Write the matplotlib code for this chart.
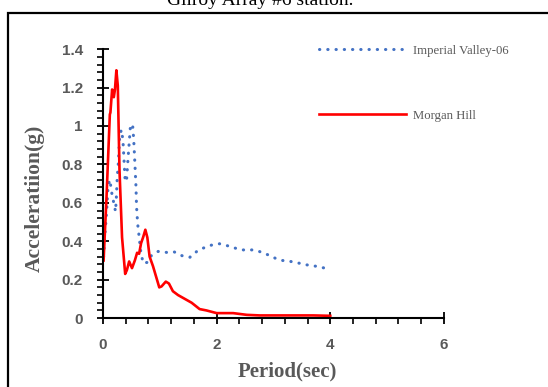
import numpy as np
import matplotlib
matplotlib.use("Agg")
import matplotlib.pyplot as plt
from matplotlib.patches import Rectangle
from matplotlib.ticker import MultipleLocator

# spectral acceleration vs period, two records
t_iv = [0.01, 0.03, 0.06, 0.09, 0.12, 0.14, 0.165, 0.19, 0.22, 0.235, 0.25, 0.27, 0.29,
        0.32, 0.35, 0.37, 0.39, 0.415, 0.44, 0.46, 0.48, 0.52, 0.54, 0.56, 0.58, 0.59,
        0.61, 0.635, 0.66, 0.705, 0.78, 0.85, 0.97, 1.12, 1.25, 1.39, 1.53, 1.65, 1.76,
        1.91, 2.05, 2.2, 2.33, 2.47, 2.62, 2.75, 2.9, 3.03, 3.16, 3.3, 3.45, 3.59, 3.75, 3.91]
a_iv = [0.32, 0.42, 0.54, 0.69, 0.72, 0.68, 0.63, 0.60, 0.555, 0.63, 0.73, 0.81, 0.93,
        0.98, 0.93, 0.82, 0.71, 0.72, 0.83, 0.91, 0.99, 1.01, 0.93, 0.81, 0.685, 0.58,
        0.49, 0.425, 0.355, 0.286, 0.29, 0.325, 0.347, 0.342, 0.345, 0.325, 0.317, 0.347, 0.364,
        0.38, 0.387, 0.376, 0.364, 0.355, 0.355, 0.347, 0.33, 0.312, 0.30, 0.295, 0.286, 0.277, 0.27, 0.26]

t_mh = [0.01, 0.06, 0.12, 0.13, 0.16, 0.19, 0.21, 0.235, 0.26, 0.29, 0.335, 0.39, 0.42,
        0.46, 0.51, 0.56, 0.60, 0.635, 0.67, 0.705, 0.745, 0.78, 0.82, 0.88, 0.99, 1.03,
        1.105, 1.16, 1.23, 1.32, 1.44, 1.56, 1.70, 1.82, 2.0, 2.29, 2.53, 2.76, 3.06, 3.35, 3.7, 4.0]
a_mh = [0.30, 0.62, 1.06, 1.07, 1.19, 1.15, 1.19, 1.29, 1.21, 0.77, 0.42, 0.23, 0.25,
        0.295, 0.26, 0.30, 0.34, 0.335, 0.39, 0.42, 0.46, 0.42, 0.32, 0.27, 0.16, 0.165,
        0.19, 0.18, 0.14, 0.12, 0.10, 0.08, 0.047, 0.04, 0.026, 0.026, 0.017, 0.014, 0.014, 0.014, 0.014, 0.012]

y_ticks = [0, 0.2, 0.4, 0.6, 0.8, 1.0, 1.2, 1.4]
y_ticklabels = ["0", "0.2", "0.4", "0.6", "0.8", "1", "1.2", "1.4"]

gray = "#595959"
serif = ["Liberation Serif", "DejaVu Serif"]

fig = plt.figure(figsize=(5.48, 3.87), dpi=100)
ax = fig.add_axes([0.188, 0.178, 0.622, 0.695])

ax.plot(t_iv, a_iv, color="#4472C4", lw=2.2, linestyle=(0, (0.1, 2.6)),
        dash_capstyle="round", label="Imperial Valley-06")
ax.plot(t_mh, a_mh, color="#FF0000", lw=1.9, label="Morgan Hill")

ax.set_xlim(0, 6)
ax.set_ylim(0, 1.4)
ax.xaxis.set_major_locator(MultipleLocator(2))
ax.xaxis.set_minor_locator(MultipleLocator(0.4))
ax.yaxis.set_minor_locator(MultipleLocator(0.04))
ax.set_yticks(y_ticks)
ax.set_yticklabels(y_ticklabels)

for s in ["top", "right"]:
    ax.spines[s].set_visible(False)
for s in ["left", "bottom"]:
    ax.spines[s].set_linewidth(1.5)
ax.tick_params(which="major", direction="inout", length=9, width=1.3, pad=10,
               labelsize=11, labelcolor=gray)
ax.tick_params(which="minor", direction="out", length=4, width=1.2)
for lab in ax.get_xticklabels() + ax.get_yticklabels():
    lab.set_fontweight("bold")
    lab.set_family(["Liberation Sans", "DejaVu Sans"])

# axis titles placed in figure coords
fig.text(287 / 548, 1 - 371 / 387, "Period(sec)", family=serif, fontsize=15,
         fontweight="bold", color=gray, ha="center", va="center")
fig.text(35 / 548, 1 - 198 / 387, "Acceleratiion(g)", family=serif, fontsize=15.5,
         fontweight="bold", color=gray, ha="center", va="center", rotation=90)

leg = ax.legend(loc="upper left", bbox_to_anchor=(0.571, 0.901), bbox_transform=fig.transFigure,
                frameon=False, borderpad=0, handlelength=6.8, handletextpad=0.5,
                labelspacing=4.15, prop={"family": serif, "size": 9.2})
for txt in leg.get_texts():
    txt.set_color(gray)

# outer frame and the clipped title above it
fig.patches.append(Rectangle((8 / 548, -0.01), 1.0, 1 - 9.5 / 387, transform=fig.transFigure,
                             fill=False, edgecolor="black", lw=1.6))
fig.text(0.475, 1 - 5 / 387, "Gilroy Array #6 station.", family=serif, fontsize=14,
         ha="center", va="baseline", color="black")

fig.savefig("out.png", dpi=100)
